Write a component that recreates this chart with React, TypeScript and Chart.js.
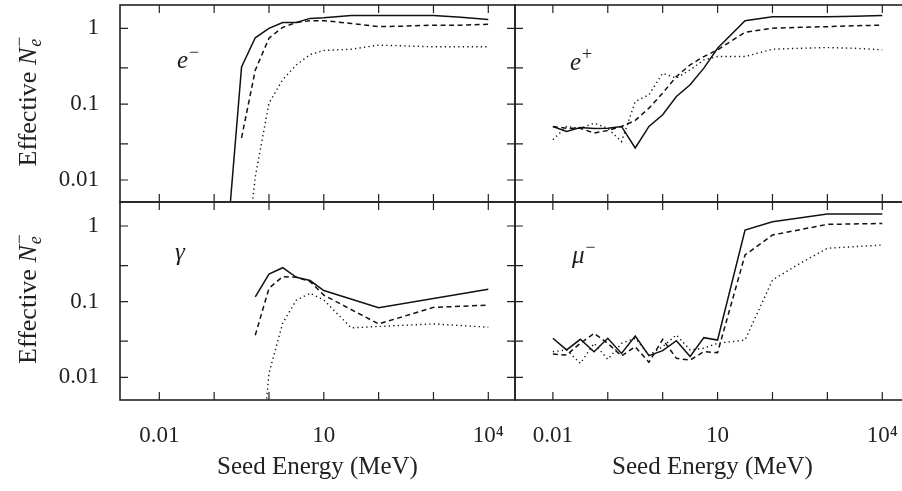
import React, { useEffect, useRef } from 'react';
import { Chart, registerables } from 'chart.js';

Chart.register(...registerables);

// ---------------- data ----------------
// seed energies (MeV), quarter-decade grid up to 10 MeV, half-decade above
const ENERGY_MEV = [
  0.01, 0.01778, 0.03162, 0.05623, 0.1, 0.1778, 0.3162, 0.5623, 1, 1.778, 3.162, 5.623, 10,
  31.62, 100, 316.2, 1000, 3162, 10000,
];

// e- seeds
const E_MINUS_SOLID = [null, null, null, null, null, 0.002, 0.31, 0.75, 1.0, 1.19, 1.19, 1.35, 1.38, 1.47, 1.47, 1.47, 1.47, 1.4, 1.31];
const E_MINUS_DASHED = [null, null, null, null, null, null, 0.036, 0.28, 0.74, 1.03, 1.19, 1.26, 1.26, 1.16, 1.05, 1.07, 1.1, 1.1, 1.13];
const E_MINUS_DOTTED = [null, null, null, null, null, null, 0.00025, 0.011, 0.103, 0.21, 0.33, 0.45, 0.51, 0.53, 0.6, 0.585, 0.57, 0.57, 0.57];

// e+ seeds
const E_PLUS_SOLID = [0.0508, 0.0437, 0.0493, 0.0478, 0.048, 0.0508, 0.0264, 0.0508, 0.0724, 0.126, 0.18, 0.298, 0.546, 1.26, 1.42, 1.42, 1.42, 1.44, 1.47];
const E_PLUS_DASHED = [0.0508, 0.048, 0.048, 0.0416, 0.045, 0.0508, 0.061, 0.0886, 0.14, 0.231, 0.33, 0.424, 0.52, 0.885, 1.0, 1.03, 1.05, 1.08, 1.1];
const E_PLUS_DOTTED = [0.034, 0.0508, 0.048, 0.056, 0.048, 0.032, 0.108, 0.133, 0.255, 0.22, 0.283, 0.383, 0.424, 0.424, 0.53, 0.545, 0.557, 0.545, 0.52];

// gamma seeds
const GAMMA_SOLID = [null, null, null, null, null, null, null, 0.116, 0.232, 0.281, 0.21, 0.19, 0.14, null, 0.083, null, null, null, 0.146];
const GAMMA_DASHED = [null, null, null, null, null, null, null, 0.036, 0.15, 0.214, 0.21, 0.184, 0.122, null, 0.0507, null, 0.084, null, 0.09];
const GAMMA_DOTTED = [null, null, null, null, null, null, null, 0.0001, 0.0113, 0.052, 0.105, 0.129, 0.105, 0.045, 0.047, null, 0.0507, null, 0.046];

// mu- seeds
const MU_SOLID = [0.0328, 0.023, 0.0318, 0.0218, 0.0328, 0.0207, 0.0352, 0.0193, 0.0225, 0.0305, 0.0188, 0.0334, 0.0311, 0.885, 1.14, null, 1.44, null, 1.44];
const MU_DASHED = [0.0203, 0.0197, 0.0281, 0.0381, 0.0281, 0.0191, 0.0254, 0.0158, 0.0318, 0.0178, 0.0169, 0.0218, 0.0212, 0.414, 0.76, null, 1.05, null, 1.08];
const MU_DOTTED = [0.0218, 0.023, 0.0153, 0.0281, 0.0173, 0.0281, 0.0328, 0.0197, 0.0254, 0.0363, 0.023, 0.0242, 0.0281, 0.0311, 0.193, 0.32, 0.507, null, 0.561];

// ticks
const X_TICKS = [0.01, 0.1, 1, 10, 100, 1000, 10000];
const X_TICK_LABELS = ['0.01', '', '', '10', '', '', '10⁴'];
const Y_TICKS = [0.01, 0.03, 0.1, 0.3, 1];
const Y_TICK_LABELS = ['0.01', '', '0.1', '', '1'];

const X_TITLE = 'Seed Energy (MeV)';
// y title "Effective N_e^-" pieces
const Y_TITLE_TEXT = 'Effective ';
const Y_TITLE_SYMBOL = 'N';
const Y_TITLE_SUB = 'e';
const Y_TITLE_SUP = '−';

const PANELS = [
  { main: 'e', sup: '−', row: 0, col: 0, series: [E_MINUS_SOLID, E_MINUS_DASHED, E_MINUS_DOTTED], lx: 57, ly: 63 },
  { main: 'e', sup: '+', row: 0, col: 1, series: [E_PLUS_SOLID, E_PLUS_DASHED, E_PLUS_DOTTED], lx: 55, ly: 65 },
  { main: 'γ', sup: '', row: 1, col: 0, series: [GAMMA_SOLID, GAMMA_DASHED, GAMMA_DOTTED], lx: 55, ly: 58 },
  { main: 'μ', sup: '−', row: 1, col: 1, series: [MU_SOLID, MU_DASHED, MU_DOTTED], lx: 57, ly: 61 },
];

const SERIES_NAMES = ['solid', 'dashed', 'dotted'];

// ---------------- layout / style ----------------
const FONT = "'Liberation Serif', 'Times New Roman', serif";
const INK = '#222';
const CANVAS_W = 930;
const CANVAS_H = 491;
const COL_LEFT = [120, 515];
const COL_RIGHT = [515, 910];
const ROW_TOP = [5, 202];
const ROW_BOTTOM = [202, 400];
const X_RANGE = [
  [Math.pow(10, -2.717), Math.pow(10, 4.487)],
  [Math.pow(10, -2.69), Math.pow(10, 4.505)],
];
const Y_RANGE = [
  [Math.pow(10, -2.29), Math.pow(10, 0.307)],
  [Math.pow(10, -2.3), Math.pow(10, 0.317)],
];
const LINE_STYLES = [
  { borderDash: [], borderWidth: 1.5 },
  { borderDash: [5, 3.5], borderWidth: 1.5 },
  { borderDash: [1.3, 3.2], borderWidth: 1.4 },
];
const TICK_LEN = 8;

const framePlugin = {
  id: 'frame',
  afterDraw(chart: any, _args: any, opts: any) {
    const { ctx, chartArea: a } = chart;
    const xs = chart.scales.x;
    const ys = chart.scales.y;
    ctx.save();
    ctx.strokeStyle = INK;
    ctx.setLineDash([]);
    ctx.lineWidth = 1.2;
    ctx.beginPath();
    for (const v of X_TICKS) {
      const px = xs.getPixelForValue(v);
      ctx.moveTo(px, a.top);
      ctx.lineTo(px, a.top + TICK_LEN);
      ctx.moveTo(px, a.bottom);
      ctx.lineTo(px, a.bottom - TICK_LEN);
    }
    for (const v of Y_TICKS) {
      const py = ys.getPixelForValue(v);
      ctx.moveTo(a.left, py);
      ctx.lineTo(a.left + TICK_LEN, py);
      ctx.moveTo(a.right, py);
      ctx.lineTo(a.right - TICK_LEN, py);
    }
    ctx.stroke();
    ctx.lineWidth = 1.6;
    ctx.strokeRect(a.left, a.top, a.right - a.left, a.bottom - a.top);

    ctx.fillStyle = INK;
    ctx.textBaseline = 'alphabetic';
    ctx.textAlign = 'left';

    // panel label
    ctx.font = `italic 25px ${FONT}`;
    const lx = a.left + opts.lx;
    const ly = a.top + opts.ly;
    ctx.fillText(opts.main, lx, ly);
    if (opts.sup) {
      const w = ctx.measureText(opts.main).width;
      ctx.font = `18px ${FONT}`;
      ctx.fillText(opts.sup, lx + w + 1, ly - 10);
    }

    // rotated y-axis title with italic symbol, subscript and superscript
    if (opts.yTitle) {
      const mainFont = `26px ${FONT}`;
      const symFont = `italic 26px ${FONT}`;
      const subFont = `italic 18px ${FONT}`;
      const supFont = `18px ${FONT}`;
      ctx.font = mainFont;
      const w1 = ctx.measureText(Y_TITLE_TEXT).width;
      ctx.font = symFont;
      const w2 = ctx.measureText(Y_TITLE_SYMBOL).width;
      ctx.font = subFont;
      const w3 = ctx.measureText(Y_TITLE_SUB).width;
      ctx.font = supFont;
      const w4 = ctx.measureText(Y_TITLE_SUP).width;
      const total = w1 + w2 + 1 + Math.max(w3, w4);
      const cy = (a.top + a.bottom) / 2 - 2;
      ctx.translate(36, cy + total / 2);
      ctx.rotate(-Math.PI / 2);
      ctx.font = mainFont;
      ctx.fillText(Y_TITLE_TEXT, 0, 0);
      ctx.font = symFont;
      ctx.fillText(Y_TITLE_SYMBOL, w1, 0);
      ctx.font = subFont;
      ctx.fillText(Y_TITLE_SUB, w1 + w2 + 1, 5);
      ctx.font = supFont;
      ctx.fillText(Y_TITLE_SUP, w1 + w2 + 1, -11);
    }
    ctx.restore();
  },
};

function buildConfig(p: typeof PANELS[number]): any {
  const datasets = p.series.map((vals, si) => ({
    label: SERIES_NAMES[si],
    data: ENERGY_MEV.map((x, i) => ({ x, y: vals[i] })).filter((pt) => pt.y !== null),
    borderColor: '#111',
    backgroundColor: '#111',
    borderWidth: LINE_STYLES[si].borderWidth,
    borderDash: LINE_STYLES[si].borderDash,
    borderCapStyle: 'butt',
    pointRadius: 0,
    tension: 0,
    fill: false,
  }));
  const showY = p.col === 0;
  const showX = p.row === 1;
  return {
    type: 'line',
    data: { datasets },
    plugins: [framePlugin],
    options: {
      animation: false,
      responsive: false,
      events: [],
      layout: {
        padding: {
          left: p.col === 0 ? 0 : COL_LEFT[1],
          right: CANVAS_W - COL_RIGHT[p.col],
          top: ROW_TOP[p.row],
          bottom: p.row === 0 ? CANVAS_H - ROW_BOTTOM[0] : 0,
        },
      },
      plugins: {
        legend: { display: false },
        tooltip: { enabled: false },
        frame: { main: p.main, sup: p.sup, lx: p.lx, ly: p.ly, yTitle: showY },
      },
      scales: {
        x: {
          type: 'logarithmic',
          position: 'bottom',
          display: showX,
          min: X_RANGE[p.col][0],
          max: X_RANGE[p.col][1],
          grid: { display: false, drawTicks: false },
          border: { display: false },
          afterBuildTicks: (s: any) => {
            s.ticks = X_TICKS.map((v) => ({ value: v }));
          },
          afterFit: (s: any) => {
            s.height = showX ? CANVAS_H - ROW_BOTTOM[1] : 0;
            s.paddingLeft = 0;
            s.paddingRight = 0;
            s.paddingTop = 0;
            s.paddingBottom = 0;
          },
          ticks: {
            autoSkip: false,
            maxRotation: 0,
            minRotation: 0,
            padding: 22,
            color: INK,
            font: { family: FONT, size: 23 },
            callback: (_v: any, i: number) => X_TICK_LABELS[i],
          },
          title: {
            display: true,
            text: X_TITLE,
            color: INK,
            font: { family: FONT, size: 25 },
            padding: { top: 0, bottom: 9 },
          },
        },
        y: {
          type: 'logarithmic',
          position: 'left',
          display: showY,
          min: Y_RANGE[p.row][0],
          max: Y_RANGE[p.row][1],
          grid: { display: false, drawTicks: false },
          border: { display: false },
          afterBuildTicks: (s: any) => {
            s.ticks = Y_TICKS.map((v) => ({ value: v }));
          },
          afterFit: (s: any) => {
            s.width = showY ? COL_LEFT[0] : 0;
            s.paddingLeft = 0;
            s.paddingRight = 0;
            s.paddingTop = 0;
            s.paddingBottom = 0;
          },
          ticks: {
            autoSkip: false,
            padding: 21,
            color: INK,
            font: { family: FONT, size: 23 },
            callback: (_v: any, i: number) => Y_TICK_LABELS[i],
          },
          title: { display: false },
        },
      },
    },
  };
}

export default function App() {
  const refs = useRef<(HTMLCanvasElement | null)[]>([]);

  useEffect(() => {
    const charts = PANELS.map((p, i) => {
      const canvas = refs.current[i];
      return canvas ? new Chart(canvas, buildConfig(p)) : null;
    });
    return () => {
      charts.forEach((c) => c && c.destroy());
    };
  }, []);

  return (
    <div
      style={{
        position: 'fixed',
        left: 0,
        top: 0,
        width: 902,
        height: 491,
        overflow: 'hidden',
        background: '#fff',
      }}
    >
      {PANELS.map((_, i) => (
        <canvas
          key={i}
          ref={(el) => {
            refs.current[i] = el;
          }}
          width={CANVAS_W}
          height={CANVAS_H}
          style={{ position: 'absolute', left: 0, top: 0, width: CANVAS_W, height: CANVAS_H }}
        />
      ))}
    </div>
  );
}
